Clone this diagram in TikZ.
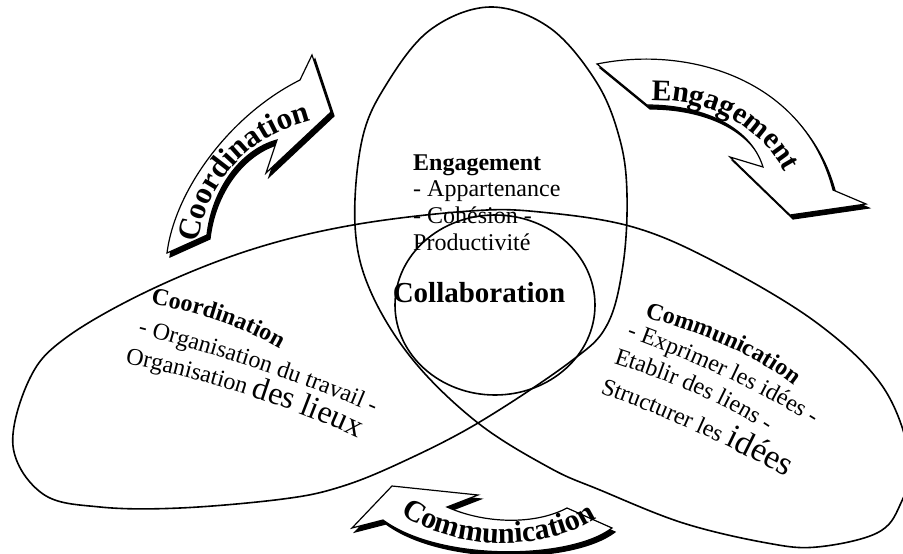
\documentclass[tikz,border=0pt]{standalone}
\usepackage{fontspec}
\setmainfont{Liberation Serif}
\usetikzlibrary{decorations.text}

\newcommand{\coordarrow}{(167,253) .. controls (175,190) and (230,115) .. (300,80) -- (312,55) -- (331,112) -- (266,173) -- (277,140) .. controls (240,150) and (212,190) .. (207,235) -- cycle}
\newcommand{\engarrow}{(597,64) .. controls (690,45) and (805,80) .. (833,190) -- (866,204) -- (790,215) -- (730,157) -- (763,167) .. controls (750,125) and (700,105) .. (647,105) -- cycle}
\newcommand{\commarrow}{(392,486) -- (478,495) -- (447,507) .. controls (485,524) and (535,525) .. (567,508) -- (612,528) .. controls (570,560) and (440,562) .. (383,520) -- (352,528) -- cycle}

\tikzset{
  loopline/.style={line width=1.6pt},
  arrowbody/.style={fill=white, draw=black, line width=1.2pt},
  arrowshadow/.style={fill=black, draw=black, line width=1.2pt, xshift=3pt, yshift=-4pt},
  blocktext/.style={font=\fontsize{24}{27}\selectfont, inner sep=0pt, anchor=base west},
  curvetext/.style={decorate, decoration={text along path, text align=center, text={#1}}}
}

\begin{document}
\begin{tikzpicture}[x=1pt,y=-1pt]
\useasboundingbox (0,0) rectangle (903,554);
% the three lobes, one closed line
\draw[loopline] plot[smooth cycle, tension=0.6] coordinates {(478,423) (413,360) (370,290) (355,225) (362,140) (386,85) (430,30) (490,7) (550,28) (597,83) (620,140) (627,195) (623,265) (607,325) (570,362) (478,423) (400,463) (340,487) (283,499) (180,508) (100,507) (43,494) (13,446) (30,378) (67,337) (150,290) (250,250) (353,225) (470,211) (540,212) (633,227) (717,263) (817,323) (883,387) (910,460) (900,505) (877,533) (817,547) (767,543) (683,523) (600,490) (550,468)};
\draw[loopline] (495,305) ellipse [x radius=100pt, y radius=90pt];

% arrows
\fill[arrowshadow] \coordarrow;
\draw[arrowbody] \coordarrow;
\fill[arrowshadow] \engarrow;
\draw[arrowbody] \engarrow;
\fill[arrowshadow] \commarrow;
\draw[arrowbody] \commarrow;
\path[curvetext={|\bfseries\fontsize{31}{31}\selectfont|Coordination}] (196,254) .. controls (203,185) and (248,132) .. (322,118);
\path[curvetext={|\bfseries\fontsize{30}{30}\selectfont|Engagement}] (642,101) .. controls (705,96) and (764,125) .. (789,181);
\path[curvetext={|\bfseries\fontsize{30}{30}\selectfont|Communication}] (388,504) .. controls (440,551) and (548,559) .. (610,509);

% middle
\node[blocktext, font=\fontsize{24}{27}\selectfont\bfseries] (eng) at (413,170) {Engagement};
\node[blocktext] (eng1) at (413,196) {- Appartenance};
\node[blocktext] (eng2) at (413,223) {- Cohésion -};
\node[blocktext] (eng3) at (413,250) {Productivité};
\node[font=\fontsize{29}{29}\selectfont\bfseries, inner sep=0pt, anchor=base] (collab) at (479,302) {Collaboration};

% left lobe
\path[curvetext={|\fontsize{24}{24}\selectfont\bfseries|Coordination}] (146,303) .. controls (195,312) and (240,325) .. (284,351);
\path[curvetext={|\fontsize{24}{24}\selectfont|- Organisation du travail -}] (131,332) .. controls (200,350) and (300,380) .. (380,416);
\path[curvetext={|\fontsize{24}{24}\selectfont|Organisation |\fontsize{32}{32}\selectfont|des lieux}] (118,362) .. controls (190,375) and (290,405) .. (364,441);

% right lobe
\path[curvetext={|\fontsize{24}{24}\selectfont\bfseries|Communication}] (641,316) .. controls (690,330) and (750,350) .. (797,388);
\path[curvetext={|\fontsize{24}{24}\selectfont|- Exprimer les idées -}] (622,335) .. controls (690,360) and (760,390) .. (817,427);
\path[curvetext={|\fontsize{24}{24}\selectfont|Etablir des liens -}] (610,362) .. controls (665,380) and (720,400) .. (770,434);
\path[curvetext={|\fontsize{24}{24}\selectfont|Structurer les |\fontsize{34}{34}\selectfont|idées}] (596,392) .. controls (650,410) and (720,440) .. (790,479);
\end{tikzpicture}
\end{document}
